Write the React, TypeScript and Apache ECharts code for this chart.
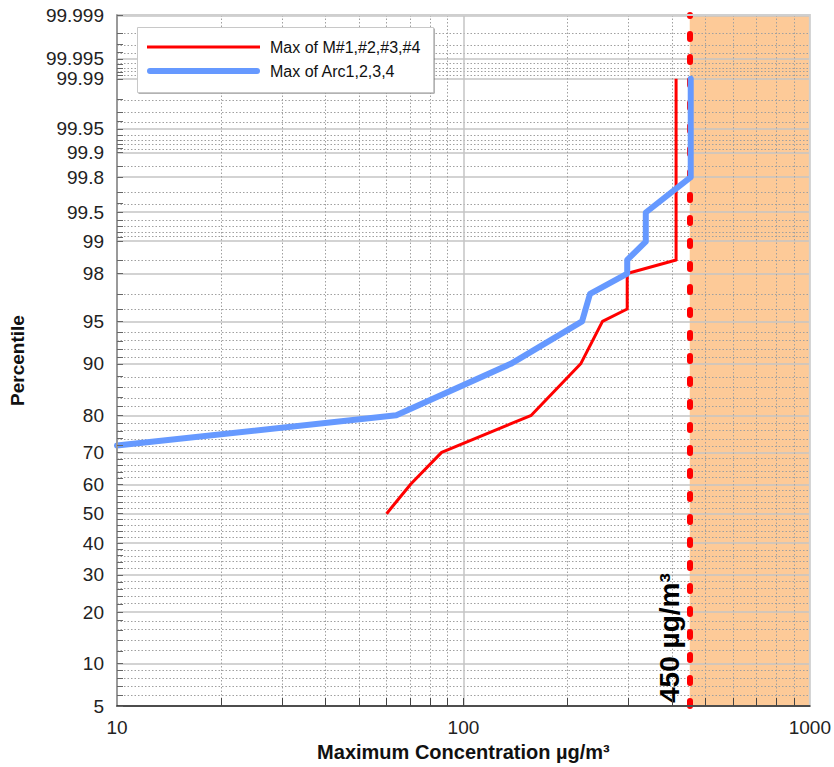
import React, { useEffect, useRef } from "react";
import * as echarts from "echarts";

// ---- data ----
const percentileLabels = [5, 10, 20, 30, 40, 50, 60, 70, 80, 90, 95, 98, 99, 99.5, 99.8, 99.9, 99.95, 99.99, 99.995, 99.999];
const percentileMinor = [6, 7, 8, 9, 12, 14, 16, 18, 22, 24, 26, 28, 32, 34, 36, 38, 42, 44, 46, 48, 52, 54, 56, 58, 62, 64, 66, 68, 72, 74, 76, 78, 82, 84, 86, 88, 91, 92, 93, 94, 96, 97, 98.5, 99.1, 99.2, 99.3, 99.4, 99.6, 99.7, 99.85, 99.91, 99.92, 99.93, 99.94, 99.96, 99.97, 99.98, 99.991, 99.992, 99.993, 99.994, 99.996, 99.997, 99.998];
const xLabels = [10, 100, 1000];
const xMajorGrid = [100];
const xMinorGrid = [20, 30, 40, 50, 60, 70, 80, 90, 200, 300, 400, 500, 600, 700, 800, 900];

const redName = "Max of M#1,#2,#3,#4";
const redX = [60, 70.5, 86.5, 157, 218, 252, 297, 297, 411, 411];
const redP = [50, 60, 70, 80, 90, 95, 96, 98, 98.5, 99.99];

const blueName = "Max of Arc1,2,3,4";
const blueX = [10, 64, 137, 220, 232, 297, 297, 336, 336, 453, 453];
const blueP = [72, 80, 90, 95, 97, 98, 98.5, 99, 99.5, 99.8, 99.99];

const threshold = 450;
const thresholdLabel = "450 µg/m³";
const xMin = 10;
const xMax = 1000;
const pMin = 5;
const pMax = 99.999;

// inverse standard normal CDF (Acklam)
function probit(p: number): number {
  const a = [-3.969683028665376e1, 2.209460984245205e2, -2.759285104469687e2, 1.38357751867269e2, -3.066479806614716e1, 2.506628277459239];
  const b = [-5.447609879822406e1, 1.615858368580409e2, -1.556989798598866e2, 6.680131188771972e1, -1.328068155288572e1];
  const c = [-7.784894002430293e-3, -3.223964580411365e-1, -2.400758277161838, -2.549732539343734, 4.374664141464968, 2.938163982698783];
  const d = [7.784695709041462e-3, 3.224671290700398e-1, 2.445134137142996, 3.754408661907416];
  const plow = 0.02425;
  const phigh = 1 - plow;
  if (p < plow) {
    const q = Math.sqrt(-2 * Math.log(p));
    return (((((c[0] * q + c[1]) * q + c[2]) * q + c[3]) * q + c[4]) * q + c[5]) / ((((d[0] * q + d[1]) * q + d[2]) * q + d[3]) * q + 1);
  }
  if (p <= phigh) {
    const q = p - 0.5;
    const r = q * q;
    return ((((((a[0] * r + a[1]) * r + a[2]) * r + a[3]) * r + a[4]) * r + a[5]) * q) / (((((b[0] * r + b[1]) * r + b[2]) * r + b[3]) * r + b[4]) * r + 1);
  }
  const q = Math.sqrt(-2 * Math.log(1 - p));
  return -(((((c[0] * q + c[1]) * q + c[2]) * q + c[3]) * q + c[4]) * q + c[5]) / ((((d[0] * q + d[1]) * q + d[2]) * q + d[3]) * q + 1);
}
const z = (pct: number) => probit(pct / 100);

const FONT = "'Liberation Sans', Arial, sans-serif";

export default function App() {
  const ref = useRef<HTMLDivElement>(null);
  useEffect(() => {
    document.body.style.margin = "0";
    if (!ref.current) return;
    const chart = echarts.init(ref.current, undefined, { renderer: "svg" });

    const majorZ = percentileLabels.map(z);
    const minorZ = percentileMinor.map(z);

    const gridLines: any[] = [
      ...percentileLabels.map((p) => ({ yAxis: z(p), lineStyle: { color: "#c4c4c4", width: 1.5, type: "solid" } })),
      ...percentileMinor.map((p) => ({ yAxis: z(p), lineStyle: { color: "#a0a0a0", width: 1, type: [1.5, 2] } })),
      ...xMajorGrid.map((x) => ({ xAxis: x, lineStyle: { color: "#c4c4c4", width: 1.5, type: "solid" } })),
      ...xMinorGrid.map((x) => ({ xAxis: x, lineStyle: { color: "#a0a0a0", width: 1, type: [1.5, 2] } })),
    ];

    const option: any = {
      animation: false,
      textStyle: { fontFamily: FONT },
      grid: { left: 117, right: 22, top: 15, bottom: 56, show: true, borderColor: "#cfcfcf", borderWidth: 2, backgroundColor: "transparent", z: 6 },
      xAxis: {
        type: "log",
        logBase: 10,
        min: xMin,
        max: xMax,
        z: 7,
        name: "Maximum Concentration µg/m³",
        nameLocation: "middle",
        nameGap: 36,
        nameTextStyle: { fontSize: 20, fontWeight: "bold", color: "#111", fontFamily: FONT },
        axisLine: { show: true, onZero: false, lineStyle: { color: "#222", width: 1.5 } },
        axisTick: { show: true, inside: true, length: 8, customValues: [...xMinorGrid, ...xMajorGrid], lineStyle: { color: "#444" } },
        minorTick: { show: false },
        axisLabel: { customValues: xLabels, formatter: (v: number) => String(Math.round(v)), fontSize: 19, color: "#222", margin: 12, fontFamily: FONT },
        splitLine: { show: false },
      },
      yAxis: {
        type: "value",
        min: z(pMin),
        max: z(pMax),
        z: 7,
        name: "Percentile",
        nameLocation: "middle",
        nameGap: 90,
        nameTextStyle: { fontSize: 19, fontWeight: "bold", color: "#111", fontFamily: FONT },
        axisLine: { show: true, onZero: false, lineStyle: { color: "#888", width: 1.5 } },
        axisTick: { show: true, inside: true, length: 6, customValues: [...majorZ, ...minorZ], lineStyle: { color: "#666" } },
        axisLabel: {
          customValues: majorZ,
          fontSize: 19,
          color: "#222",
          margin: 13,
          fontFamily: FONT,
          formatter: (v: number) => {
            let best = percentileLabels[0];
            let bd = Infinity;
            for (const p of percentileLabels) {
              const dd = Math.abs(z(p) - v);
              if (dd < bd) { bd = dd; best = p; }
            }
            return String(best);
          },
        },
        splitLine: { show: false },
      },
      legend: [
        {
          data: [{ name: redName, icon: "rect" }],
          left: 147, top: 39, padding: 0, z: 20,
          itemWidth: 113, itemHeight: 3,
          textStyle: { fontSize: 16, color: "#111", fontFamily: FONT, padding: [0, 0, 0, 5] },
          selectedMode: false,
        },
        {
          data: [{ name: blueName, icon: "path://M3,0 H110 A3,3 0 0 1 110,6 H3 A3,3 0 0 1 3,0 Z" }],
          left: 147, top: 63, padding: 0, z: 20,
          itemWidth: 113, itemHeight: 7,
          textStyle: { fontSize: 16, color: "#111", fontFamily: FONT, padding: [0, 0, 0, 5] },
          selectedMode: false,
        },
      ],
      graphic: [
        { type: "rect", left: 138.5, top: 28.5, z: 15, shape: { width: 296, height: 65 }, style: { fill: "#666" } },
        { type: "rect", left: 137, top: 27, z: 16, shape: { width: 296, height: 65 }, style: { fill: "#fff", stroke: "#c8c8c8", lineWidth: 1 } },
      ],
      series: [
        {
          name: "__area",
          type: "line",
          data: [],
          silent: true,
          markArea: {
            silent: true,
            z: 1,
            itemStyle: { color: "#FDCA98" },
            data: [[{ xAxis: threshold }, { xAxis: xMax }]],
          },
        },
        {
          name: "__grid",
          type: "line",
          data: [],
          silent: true,
          markLine: { silent: true, z: 2, symbol: "none", label: { show: false }, data: gridLines },
        },
        {
          name: "__threshold",
          type: "line",
          data: [],
          silent: true,
          markLine: {
            silent: true,
            z: 3,
            symbol: "none",
            lineStyle: { color: "#ff0000", width: 6, type: [5, 18], cap: "round" },
            label: {
              show: true,
              formatter: thresholdLabel,
              position: "insideStartTop",
              distance: [3, 6],
              fontSize: 28,
              fontWeight: "bold",
              color: "#000",
              fontFamily: FONT,
            },
            data: [{ xAxis: threshold }],
          },
        },
        {
          name: redName,
          type: "line",
          z: 4,
          symbol: "none",
          color: "#ff0000",
          lineStyle: { color: "#ff0000", width: 3, join: "round" },
          data: redX.map((x, i) => [x, z(redP[i])]),
        },
        {
          name: blueName,
          type: "line",
          z: 5,
          symbol: "none",
          color: "#6699ff",
          lineStyle: { color: "#6699ff", width: 6, cap: "round", join: "round" },
          data: blueX.map((x, i) => [x, z(blueP[i])]),
        },
      ],
    };
    chart.setOption(option);
    return () => chart.dispose();
  }, []);
  return <div ref={ref} style={{ width: 834, height: 767 }} />;
}
